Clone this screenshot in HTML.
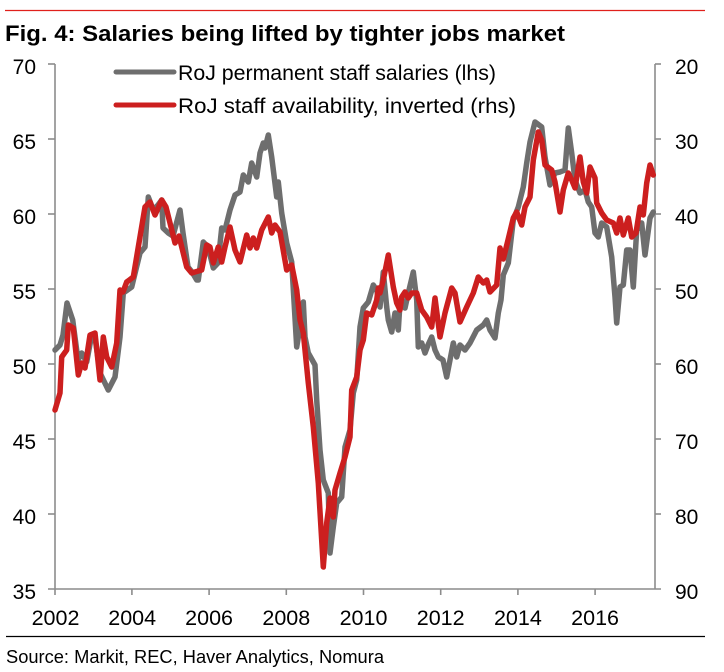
<!DOCTYPE html>
<html><head><meta charset="utf-8"><style>
html,body{margin:0;padding:0;background:#fff;}
svg{display:block;}
text{font-family:"Liberation Sans",Arial,sans-serif;fill:#000;}
</style></head><body>
<svg width="724" height="672" viewBox="0 0 724 672" xmlns="http://www.w3.org/2000/svg">
<rect width="724" height="672" fill="#fff"/>
<line x1="5" y1="10.5" x2="705" y2="10.5" stroke="#e0201c" stroke-width="1.2"/>
<text x="5" y="41" font-size="22" font-weight="bold" textLength="560" lengthAdjust="spacingAndGlyphs">Fig. 4: Salaries being lifted by tighter jobs market</text>

<g stroke="#8c8c8c" stroke-width="1.6" fill="none">
<line x1="55" y1="64" x2="55" y2="589"/>
<line x1="655" y1="64" x2="655" y2="589"/>
<line x1="48" y1="589" x2="661" y2="589"/>
<line x1="48" y1="64" x2="55" y2="64"/><line x1="48" y1="139" x2="55" y2="139"/><line x1="48" y1="214" x2="55" y2="214"/><line x1="48" y1="289" x2="55" y2="289"/><line x1="48" y1="364" x2="55" y2="364"/><line x1="48" y1="439" x2="55" y2="439"/><line x1="48" y1="514" x2="55" y2="514"/>
<line x1="655" y1="64" x2="661" y2="64"/><line x1="655" y1="139" x2="661" y2="139"/><line x1="655" y1="214" x2="661" y2="214"/><line x1="655" y1="289" x2="661" y2="289"/><line x1="655" y1="364" x2="661" y2="364"/><line x1="655" y1="439" x2="661" y2="439"/><line x1="655" y1="514" x2="661" y2="514"/>
<line x1="55" y1="589" x2="55" y2="595"/><line x1="131.9" y1="589" x2="131.9" y2="595"/><line x1="209.1" y1="589" x2="209.1" y2="595"/><line x1="286.3" y1="589" x2="286.3" y2="595"/><line x1="363.5" y1="589" x2="363.5" y2="595"/><line x1="440.7" y1="589" x2="440.7" y2="595"/><line x1="517.9" y1="589" x2="517.9" y2="595"/><line x1="595.1" y1="589" x2="595.1" y2="595"/>
</g>

<g font-size="21" text-anchor="end">
<text x="36" y="74">70</text><text x="36" y="149">65</text><text x="36" y="224">60</text><text x="36" y="299">55</text><text x="36" y="374">50</text><text x="36" y="449">45</text><text x="36" y="524">40</text><text x="36" y="599">35</text>
</g>
<g font-size="21">
<text x="675" y="74">20</text><text x="675" y="149">30</text><text x="675" y="224">40</text><text x="675" y="299">50</text><text x="675" y="374">60</text><text x="675" y="449">70</text><text x="675" y="524">80</text><text x="675" y="599">90</text>
</g>
<g font-size="21.5" text-anchor="middle">
<text x="55.5" y="625">2002</text><text x="132.2" y="625">2004</text><text x="209.1" y="625">2006</text><text x="286.3" y="625">2008</text><text x="363.5" y="625">2010</text><text x="440.7" y="625">2012</text><text x="517.9" y="625">2014</text><text x="595.1" y="625">2016</text>
</g>

<line x1="116" y1="72" x2="174" y2="72" stroke="#6e6e6e" stroke-width="5" stroke-linecap="round"/>
<text x="178" y="80" font-size="21.3" textLength="318" lengthAdjust="spacingAndGlyphs">RoJ permanent staff salaries (lhs)</text>
<line x1="116" y1="105" x2="174" y2="105" stroke="#cc1f1f" stroke-width="5" stroke-linecap="round"/>
<text x="178" y="113" font-size="21.3" textLength="338" lengthAdjust="spacingAndGlyphs">RoJ staff availability, inverted (rhs)</text>

<polyline fill="none" stroke="#6e6e6e" stroke-width="5.5" stroke-linejoin="round" stroke-linecap="round" points="55,350 60,345 63,335 67,303 72.7,320 78,360 81.7,353 86.7,362 91.7,335 95,337 100,373 108.3,390 115,377 120,337 123.3,293 131.7,287 140,253 145,247 148.3,197 153.3,210 158,205 161.7,200 163,228 168.3,233 173,236 180,210 183,233 188,267 192,272 196.7,280 198.3,280 203.3,242 208,247 213.3,268 218,263 221.7,228 225,230 230,210 235,195 240,192 243.3,175 248.3,182 251.7,163 256.7,177 260,153 263.3,143 265,148 268.3,135 271.7,157 276.7,197 278.3,182 281.7,213 286.7,243 291.7,262 296.7,347 300,327 303.3,302 305,337 308.3,353 315,365 316.7,400 320,450 323.3,480 328.3,493 330,553 333.3,527 336.7,503 341.7,497 345,447 350,430 353.3,393 356.7,380 360,327 363.3,308 368.3,302 373.3,285 376.7,290 380,307 383.3,272 386.7,307 388.3,320 391.7,332 395,313 398.3,330 400,303 405,308 408.3,293 413.3,272 416.7,300 418.3,347 421.7,343 425,353 428,345 431.7,337 435,350 438.3,357 443,360 446.7,377 450,360 453.3,343 456.7,357 460,345 465,350 470,343 476.7,330 483.3,325 486.7,320 490,330 495,338 498.3,313 501,300 503.3,275 508.3,263 513.3,220 518.3,207 523.3,187 526.7,163 530,142 535,122 541.7,127 545,157 550,185 555,173 560,172 565,170 568.3,128 571.7,153 575,180 580,193 585,190 588.3,202 591.7,207 595,233 598.3,237 601.7,223 606.7,227 611.7,257 615,297 616.7,323 620,287 623.3,285 626.7,250 630,250 633.3,287 636.7,230 641.7,223 645,255 650,218 653.3,212"/>

<polyline fill="none" stroke="#cc1f1f" stroke-width="5.5" stroke-linejoin="round" stroke-linecap="round" points="55,410 60,393 61.7,357 66.7,350 68.3,325 73.3,328 78.3,375 81.7,363 85,368 90,335 95,333 100,380 103.3,337 106.7,357 111.7,367 116.7,343 120,290 123,292 126.7,282 133.3,277 138.3,247 145,207 150,202 155,215 161.7,200 166,207 170,223 175,243 179,236 186.7,267 191.7,273 201.7,270 206.7,245 210,247 213.3,263 218.3,247 221.7,262 225,247 230,227 235,250 240,262 246.7,235 250,248 253.3,238 256.7,248 261.7,230 268.3,217 271.7,233 275,225 280,232 286.7,270 291.7,265 296.7,290 300,320 303.3,333 308.3,383 313.3,427 318.3,483 323.3,567 326.7,523 330,498 333.3,517 335,490 340,473 345,457 350,437 351.7,390 356.7,377 360,350 363.3,340 366.7,313 371.7,315 376.7,300 378.3,288 380,293 383.3,280 388.3,255 393.3,287 396.7,303 400,310 401.7,297 405,292 408.3,298 411.7,293 416.7,293 421.7,310 426.7,317 431.7,327 435,298 440,337 445,313 451.7,288 455,293 460,322 466.7,307 473.3,293 478.3,277 483.3,283 486.7,280 490,292 496.7,285 500,248 503.3,259 508,240 513.3,218 516.7,212 521.7,225 525,207 530,197 533.3,160 538.3,132 541.7,140 545,165 551.7,170 555,182 560,212 563.3,190 568.3,173 571.7,180 575,188 580,157 583.3,182 586.7,193 590,167 595,178 596.7,203 601.7,213 606.7,220 613.3,223 616.7,233 620,218 623.3,235 628.3,218 631.7,237 636,233 640,207 643.3,215 646.7,183 650,165 653.3,175"/>

<line x1="6" y1="636.5" x2="705" y2="636.5" stroke="#000" stroke-width="1.3"/>
<text x="6" y="663" font-size="18" textLength="378" lengthAdjust="spacingAndGlyphs">Source: Markit, REC, Haver Analytics, Nomura</text>
</svg>
</body></html>
